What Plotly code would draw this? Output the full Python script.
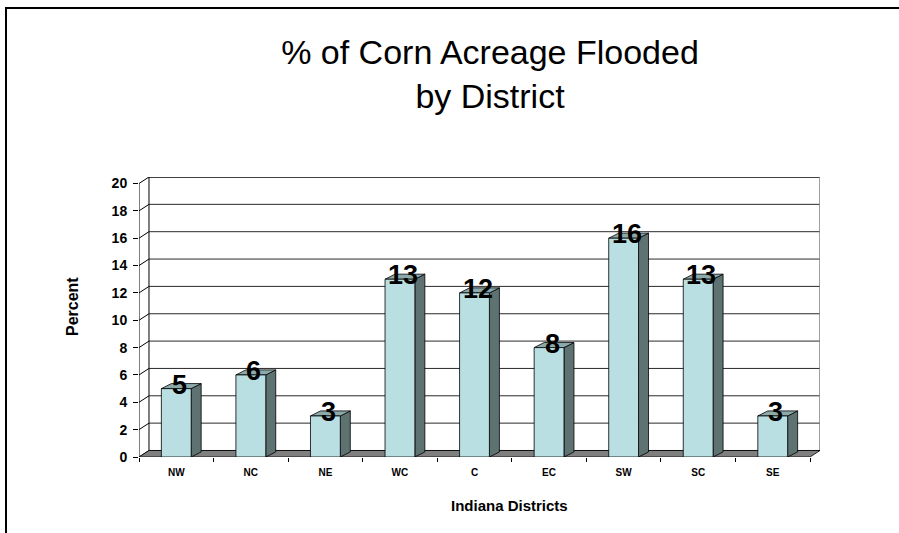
import plotly.graph_objects as go

districts = ["NW", "NC", "NE", "WC", "C", "EC", "SW", "SC", "SE"]
flooded_pct = [5, 6, 3, 13, 12, 8, 16, 13, 3]
y_ticks = list(range(0, 21, 2))

FONT = "Arial, 'Liberation Sans', sans-serif"
FRONT = "#B9DFE3"
SIDE = "#5E7272"
TOP = "#8DAAAB"

W, H = 899, 533
L, R, T, B = 139, 79, 177, 76

BW = 0.40          # bar width (category units)
DXW, DYW = 0.134, 0.476   # wall depth (data units)
DXB, DYB = 0.134, 0.37    # bar depth (data units)
n = len(districts)
ymax = 20

shapes = []
# back wall
shapes.append(dict(type="rect", xref="x", yref="y", x0=-0.5 + DXW, x1=n - 0.5 + DXW,
                   y0=DYW, y1=ymax + DYW, fillcolor="white", line=dict(width=0), layer="below"))
# gridlines on back wall + diagonals on left wall
for v in y_ticks:
    shapes.append(dict(type="line", xref="x", yref="y", x0=-0.5 + DXW, x1=n - 0.5 + DXW,
                       y0=v + DYW, y1=v + DYW,
                       line=dict(color="black" if v == ymax else "#2a2a2a", width=1.5 if v == ymax else 1),
                       layer="below"))
    shapes.append(dict(type="line", xref="x", yref="y", x0=-0.5, x1=-0.5 + DXW,
                       y0=v, y1=v + DYW, line=dict(color="black", width=1), layer="below"))
# back wall edges
shapes.append(dict(type="line", xref="x", yref="y", x0=-0.5 + DXW, x1=-0.5 + DXW,
                   y0=DYW, y1=ymax + DYW, line=dict(color="black", width=1), layer="below"))
shapes.append(dict(type="line", xref="x", yref="y", x0=n - 0.5 + DXW, x1=n - 0.5 + DXW,
                   y0=DYW, y1=ymax + DYW, line=dict(color="#808080", width=1.5), layer="below"))
# floor
shapes.append(dict(type="path", xref="x", yref="y",
                   path=f"M -0.5,0 L {n-0.5},0 L {n-0.5+DXW},{DYW} L {-0.5+DXW},{DYW} Z",
                   fillcolor="#7f7f7f", line=dict(color="black", width=0.8), layer="below"))
# front y axis line
shapes.append(dict(type="line", xref="x", yref="y", x0=-0.5, x1=-0.5, y0=0, y1=ymax,
                   line=dict(color="black", width=1), layer="below"))
# bar side and top faces
for i, v in enumerate(flooded_pct):
    xr = i + BW / 2
    xl = i - BW / 2
    shapes.append(dict(type="path", xref="x", yref="y",
                       path=f"M {xr},0 L {xr+DXB},{DYB} L {xr+DXB},{v+DYB} L {xr},{v} Z",
                       fillcolor=SIDE, line=dict(color="black", width=0.8), layer="below"))
    shapes.append(dict(type="path", xref="x", yref="y",
                       path=f"M {xl},{v} L {xr},{v} L {xr+DXB},{v+DYB} L {xl+DXB},{v+DYB} Z",
                       fillcolor=TOP, line=dict(color="black", width=0.8), layer="below"))
# outer chart border
shapes.append(dict(type="rect", xref="paper", yref="paper",
                   x0=(6 - L) / (W - L - R), x1=1.3, y0=-0.5, y1=(H - B - 8) / (H - T - B),
                   line=dict(color="black", width=2), fillcolor="rgba(0,0,0,0)"))

fig = go.Figure()
fig.add_trace(go.Bar(x=list(range(n)), y=flooded_pct, width=BW,
                     marker=dict(color=FRONT, line=dict(color="black", width=0.8)),
                     hoverinfo="skip"))

annotations = []
for i, v in enumerate(flooded_pct):
    annotations.append(dict(x=i, y=v, xref="x", yref="y", text=str(v), showarrow=False,
                            xanchor="center", yanchor="middle", xshift=3, yshift=4,
                            font=dict(family=FONT, size=27, color="black", weight="bold")))
annotations.append(dict(x=(509 - L) / (W - L - R), y=(H - B - 505) / (H - T - B),
                        xref="paper", yref="paper", text="Indiana Districts", showarrow=False,
                        xanchor="center", yanchor="middle",
                        font=dict(family=FONT, size=15, color="black", weight="bold")))
annotations.append(dict(x=(72 - L) / (W - L - R), y=(H - B - 307) / (H - T - B),
                        xref="paper", yref="paper", text="Percent", showarrow=False, textangle=-90,
                        xanchor="center", yanchor="middle",
                        font=dict(family=FONT, size=16, color="black", weight="bold")))

fig.update_layout(
    width=W, height=H,
    margin=dict(l=L, r=R, t=T, b=B, pad=0),
    paper_bgcolor="white", plot_bgcolor="white",
    showlegend=False,
    title=dict(text="% of Corn Acreage Flooded<br>by District",
               xref="container", yref="container", x=490 / W, y=1 - 64 / H,
               xanchor="center", yanchor="top",
               font=dict(family=FONT, size=34, color="black")),
    xaxis=dict(range=[-0.5, n - 0.5 + DXW], tickvals=list(range(n)), ticktext=districts,
               ticks="", showgrid=False, zeroline=False, showline=False,
               ticklabelstandoff=8,
               tickfont=dict(family=FONT, size=10, color="black", weight="bold"),
               minor=dict(tick0=-0.5, dtick=1, ticks="outside", ticklen=4, tickcolor="black",
                          showgrid=False),
               fixedrange=True),
    yaxis=dict(range=[0, ymax + DYW], tickvals=y_ticks, ticks="outside", ticklen=5,
               tickcolor="black", showgrid=False, zeroline=False, showline=False,
               ticklabelstandoff=3,
               tickfont=dict(family=FONT, size=14, color="black", weight="bold"),
               fixedrange=True),
    shapes=shapes,
    annotations=annotations,
)

fig.write_html("out.html", config={"displayModeBar": False},
               post_script="document.body.style.margin='0';")
